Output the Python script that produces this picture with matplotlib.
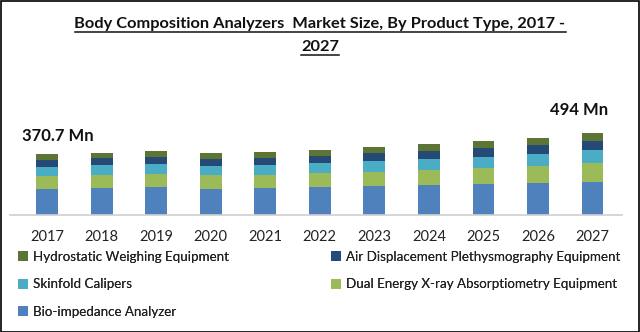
import matplotlib
matplotlib.use("Agg")
import matplotlib.pyplot as plt
from matplotlib.patches import Rectangle, Patch
from matplotlib.lines import Line2D
import numpy as np

plt.rcParams['font.family'] = ['Lato', 'DejaVu Sans']

years = ["2017", "2018", "2019", "2020", "2021", "2022",
         "2023", "2024", "2025", "2026", "2027"]

# Market size by product type (USD Mn)
bio_impedance = [156.7, 163, 169, 157, 163, 169, 175, 182, 189, 194, 202]
dual_energy   = [80, 79, 79, 85, 79, 85, 85, 93, 97, 105, 110]
skinfold      = [55, 62, 62, 56, 62, 62, 68, 67, 67, 73, 80]
air_displ     = [42, 42, 41, 42, 42, 42, 48, 48, 54, 54, 55]
hydrostatic   = [37, 30, 36, 36, 34, 36, 36, 42, 42, 40, 47]

series_names = ["Bio-impedance Analyzer",
                "Dual Energy X-ray Absorptiometry Equipment",
                "Skinfold Calipers",
                "Air Displacement Plethysmography Equipment",
                "Hydrostatic Weighing Equipment"]
series_values = [bio_impedance, dual_energy, skinfold, air_displ, hydrostatic]
series_colors = ["#4F81BD", "#9BBB59", "#4BACC6", "#254A76", "#5C7434"]

first_label = "370.7 Mn"
last_label = "494 Mn"

title_lines = ["Body Composition Analyzers  Market Size, By Product Type, 2017 -",
               "2027"]

fig = plt.figure(figsize=(6.4, 3.32), dpi=100)
W, H = 640, 332

# axes: baseline at y=215 px, spans x 10..622 px
ax = fig.add_axes([10 / W, 1 - 215 / H, 612 / W, 125 / H])
x = np.arange(len(years))
bottom = np.zeros(len(years))
for vals, col in zip(series_values, series_colors):
    ax.bar(x, vals, width=0.40, bottom=bottom, color=col, linewidth=0)
    bottom += np.array(vals)

ax.set_xlim(-0.68, 10.54)
ax.set_ylim(0, 757)
for s in ["top", "right", "left"]:
    ax.spines[s].set_visible(False)
ax.spines["bottom"].set_color("#D0D0D0")
ax.spines["bottom"].set_linewidth(1.2)
ax.set_yticks([])
ax.set_xticks(x)
ax.set_xticklabels(years, fontsize=10.5, color="#222222")
ax.tick_params(axis="x", length=0, pad=11)

ax.text(-0.46, bottom[0] + 108, first_label, fontsize=12, fontweight="bold",
        ha="left", va="center", color="#111111")
ax.text(9.76, bottom[-1] + 142, last_label, fontsize=12, fontweight="bold",
        ha="center", va="center", color="#111111")

# title, each line underlined
fig.canvas.draw()
renderer = fig.canvas.get_renderer()
for txt, yc in zip(title_lines, [24, 47]):
    tl = fig.text(0.5, 1 - yc / H, txt, ha="center", va="center", fontsize=11.8,
                  fontweight="bold", color="#111111")
    bb = tl.get_window_extent(renderer)
    fig.add_artist(Line2D([bb.x0 / W, bb.x1 / W],
                          [(bb.y0 - 0.5) / H, (bb.y0 - 0.5) / H],
                          transform=fig.transFigure, color="#111111", lw=1.1))

# legend in two columns
def make_legend(idx, x_px):
    handles = [Patch(facecolor=series_colors[i], edgecolor="none") for i in idx]
    labels = [series_names[i] for i in idx]
    leg = fig.legend(handles, labels, ncol=1, loc="upper left",
                     bbox_to_anchor=(x_px / W, 1 - 251 / H), frameon=False,
                     fontsize=9.6, handlelength=0.75, handleheight=0.75,
                     handletextpad=0.35, labelspacing=1.15, borderpad=0,
                     borderaxespad=0, labelcolor="#222222")
    fig.add_artist(leg)

make_legend([4, 2, 0], 18)
make_legend([3, 1], 331)

fig.add_artist(Rectangle((0.5 / W, 0.5 / H), 1 - 1.5 / W, 1 - 1.5 / H,
                         transform=fig.transFigure, fill=False,
                         edgecolor="black", linewidth=1.2))

fig.savefig("out.png", dpi=100)
